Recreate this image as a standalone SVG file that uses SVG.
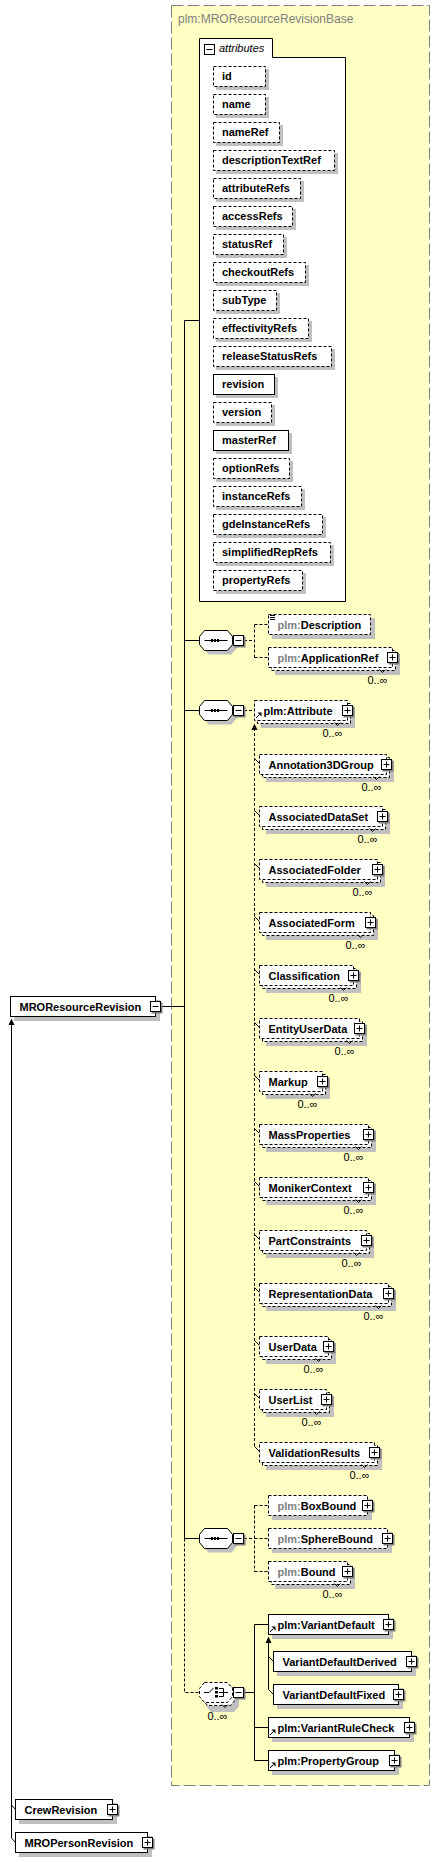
<svg xmlns="http://www.w3.org/2000/svg" xmlns:xlink="http://www.w3.org/1999/xlink" width="440" height="1862" viewBox="0 0 440 1862">
<style>
.t{font-family:"Liberation Sans",Arial,sans-serif;font-size:11px;font-weight:bold;fill:#000}
.g{fill:#808080}
.o{font-family:"Liberation Sans",Arial,sans-serif;font-size:11px;fill:#000;text-anchor:end}
.bx{fill:#fff;stroke:#000;stroke-width:1}
.d{stroke-dasharray:3,2}
.sh{fill:#c0c0c0}
.ln{fill:none;stroke:#000;stroke-width:1}
.nt{fill:none;stroke:#000;stroke-width:1}
</style>
<defs>
<g id="plus"><rect x="-4" y="-4" width="11" height="11" fill="#808080"/><rect x="-5" y="-5" width="10" height="10" fill="#fff" stroke="#000"/><path d="M-3 0H3M0 -3V3" stroke="#000" fill="none"/></g>
<g id="minus"><rect x="-4" y="-4" width="11" height="11" fill="#808080"/><rect x="-5" y="-5" width="10" height="10" fill="#fff" stroke="#000"/><path d="M-3 0H3" stroke="#000" fill="none"/></g>
<g id="ref"><path d="M1.5 -2.5L5 -6" stroke="#000" fill="none"/><polygon points="3,-8 7,-8 7,-4" fill="#000"/></g>
<g id="seq">
<polygon points="9,4 32,4 37,10 37,18 32,24 9,24 4,18 4,10" class="sh"/>
<polygon points="5,0 28,0 33,6 33,14 28,20 5,20 0,14 0,6" fill="#fff" stroke="#000"/>
<path d="M5 10H28" stroke="#000"/>
<rect x="11.5" y="8.5" width="2" height="3" fill="#000"/><rect x="14.5" y="8.5" width="2" height="3" fill="#000"/><rect x="17.5" y="8.5" width="2" height="3" fill="#000"/>
</g>
</defs>

<rect id="base-bg" x="171.5" y="5.5" width="258" height="1780" fill="#ffffc4" stroke="#808080" stroke-dasharray="12,4"/>
<text x="178" y="23" font-family="Liberation Sans, Arial, sans-serif" font-size="12" fill="#808080">plm:MROResourceRevisionBase</text>

<g id="connectors">
<path class="ln" d="M184.5 320.5H199M184.5 320.5V1538.5M161 1006.5H184.5M184.5 640.5H199.5M184.5 710.5H199.5M184.5 1538.5H199.5"/>
<path class="ln d" d="M184.5 1538.5V1692.5H200"/>
<path class="ln d" d="M244 640.5H254.5M254.5 624.5V657.5M254.5 624.5H268M254.5 657.5H268"/>
<path class="ln d" d="M244 710.5H254.5M254.5 728V1446.5"/>
<path class="ln" d="M254.5 758.5L259.5 763.5M254.5 810.5L259.5 815.5M254.5 863.5L259.5 868.5M254.5 916.5L259.5 921.5M254.5 969.5L259.5 974.5M254.5 1022.5L259.5 1027.5M254.5 1075.5L259.5 1080.5M254.5 1128.5L259.5 1133.5M254.5 1181.5L259.5 1186.5M254.5 1234.5L259.5 1239.5M254.5 1287.5L259.5 1292.5M254.5 1340.5L259.5 1345.5M254.5 1393.5L259.5 1398.5M254.5 1446.5L259.5 1451.5"/>
<polygon points="254.5,723.5 257.5,730 251.5,730" fill="#000"/>
<path class="ln d" d="M244 1538.5H254.5M254.5 1505.5V1571.5M254.5 1505.5H268M254.5 1571.5H268M254.5 1538.5H268"/>
<path class="ln" d="M244 1692.5H254.5M254.5 1624.5V1760.5M254.5 1624.5H268M254.5 1727.5H268M254.5 1760.5H268"/>
<path class="ln" d="M268.5 1641V1689.5L273.5 1694.5M268.5 1656.5L273.5 1661.5"/>
<polygon points="268.5,1636.5 271.5,1643 265.5,1643" fill="#000"/>
<path class="ln" d="M11.5 1024V1838L15.5 1842.5M11.5 1805L15.5 1809.5"/>
<polygon points="11.5,1018.5 14.5,1025 8.5,1025" fill="#000"/>
</g>

<g id="attributes">
<path d="M199.5 38.5H272.5V57.5H345.5V601.5H199.5Z" fill="#fff" stroke="#000"/>
<rect x="204.5" y="44.5" width="10" height="10" fill="#fff" stroke="#000"/>
<path d="M206.5 49.5H212.5" stroke="#000"/>
<text x="219" y="52" font-family="Liberation Sans, Arial, sans-serif" font-size="11" font-style="italic" fill="#000">attributes</text>
</g>

<g id="a-id"><rect class="sh" x="216" y="69" width="53" height="21"/><rect class="bx d" x="213.5" y="66.5" width="52" height="20"/><text class="t" x="222" y="80">id</text></g>
<g id="a-name"><rect class="sh" x="216" y="97" width="53" height="21"/><rect class="bx d" x="213.5" y="94.5" width="52" height="20"/><text class="t" x="222" y="108">name</text></g>
<g id="a-nameRef"><rect class="sh" x="216" y="125" width="67" height="21"/><rect class="bx d" x="213.5" y="122.5" width="66" height="20"/><text class="t" x="222" y="136">nameRef</text></g>
<g id="a-descriptionTextRef"><rect class="sh" x="216" y="153" width="122" height="21"/><rect class="bx d" x="213.5" y="150.5" width="121" height="20"/><text class="t" x="222" y="164">descriptionTextRef</text></g>
<g id="a-attributeRefs"><rect class="sh" x="216" y="181" width="88" height="21"/><rect class="bx d" x="213.5" y="178.5" width="87" height="20"/><text class="t" x="222" y="192">attributeRefs</text></g>
<g id="a-accessRefs"><rect class="sh" x="216" y="209" width="80" height="21"/><rect class="bx d" x="213.5" y="206.5" width="79" height="20"/><text class="t" x="222" y="220">accessRefs</text></g>
<g id="a-statusRef"><rect class="sh" x="216" y="237" width="71" height="21"/><rect class="bx d" x="213.5" y="234.5" width="70" height="20"/><text class="t" x="222" y="248">statusRef</text></g>
<g id="a-checkoutRefs"><rect class="sh" x="216" y="265" width="93" height="21"/><rect class="bx d" x="213.5" y="262.5" width="92" height="20"/><text class="t" x="222" y="276">checkoutRefs</text></g>
<g id="a-subType"><rect class="sh" x="216" y="293" width="64" height="21"/><rect class="bx d" x="213.5" y="290.5" width="63" height="20"/><text class="t" x="222" y="304">subType</text></g>
<g id="a-effectivityRefs"><rect class="sh" x="216" y="321" width="96" height="21"/><rect class="bx d" x="213.5" y="318.5" width="95" height="20"/><text class="t" x="222" y="332">effectivityRefs</text></g>
<g id="a-releaseStatusRefs"><rect class="sh" x="216" y="349" width="119" height="21"/><rect class="bx d" x="213.5" y="346.5" width="118" height="20"/><text class="t" x="222" y="360">releaseStatusRefs</text></g>
<g id="a-revision"><rect class="sh" x="216" y="377" width="62" height="21"/><rect class="bx" x="213.5" y="374.5" width="61" height="20"/><text class="t" x="222" y="388">revision</text></g>
<g id="a-version"><rect class="sh" x="216" y="405" width="59" height="21"/><rect class="bx d" x="213.5" y="402.5" width="58" height="20"/><text class="t" x="222" y="416">version</text></g>
<g id="a-masterRef"><rect class="sh" x="216" y="433" width="76" height="21"/><rect class="bx" x="213.5" y="430.5" width="75" height="20"/><text class="t" x="222" y="444">masterRef</text></g>
<g id="a-optionRefs"><rect class="sh" x="216" y="461" width="77" height="21"/><rect class="bx d" x="213.5" y="458.5" width="76" height="20"/><text class="t" x="222" y="472">optionRefs</text></g>
<g id="a-instanceRefs"><rect class="sh" x="216" y="489" width="89" height="21"/><rect class="bx d" x="213.5" y="486.5" width="88" height="20"/><text class="t" x="222" y="500">instanceRefs</text></g>
<g id="a-gdeInstanceRefs"><rect class="sh" x="216" y="517" width="110" height="21"/><rect class="bx d" x="213.5" y="514.5" width="109" height="20"/><text class="t" x="222" y="528">gdeInstanceRefs</text></g>
<g id="a-simplifiedRepRefs"><rect class="sh" x="216" y="545" width="118" height="21"/><rect class="bx d" x="213.5" y="542.5" width="117" height="20"/><text class="t" x="222" y="556">simplifiedRepRefs</text></g>
<g id="a-propertyRefs"><rect class="sh" x="216" y="573" width="90" height="21"/><rect class="bx d" x="213.5" y="570.5" width="89" height="20"/><text class="t" x="222" y="584">propertyRefs</text></g>

<g id="seq1"><use xlink:href="#seq" x="199.5" y="630.5"/><use xlink:href="#minus" x="238.5" y="640.5"/></g>
<g id="seq2"><use xlink:href="#seq" x="199.5" y="700.5"/><use xlink:href="#minus" x="238.5" y="710.5"/></g>
<g id="seq3"><use xlink:href="#seq" x="199.5" y="1528.5"/><use xlink:href="#minus" x="238.5" y="1538.5"/></g>

<g id="choice">
<polygon points="211,1692 234,1692 239,1698 239,1706 234,1712 211,1712 206,1706 206,1698" class="sh"/>
<polygon points="207.5,1685.5 230.5,1685.5 235.5,1691.5 235.5,1699.5 230.5,1705.5 207.5,1705.5 202.5,1699.5 202.5,1691.5" class="bx d"/>
<polygon points="204.5,1682.5 227.5,1682.5 232.5,1688.5 232.5,1696.5 227.5,1702.5 204.5,1702.5 199.5,1696.5 199.5,1688.5" class="bx d"/>
<path d="M204 1692.5H209L213.5 1688" class="ln"/>
<rect x="215" y="1687" width="3" height="2.5" fill="#000"/><rect x="215" y="1691" width="3" height="2.5" fill="#000"/><rect x="215" y="1695" width="3" height="2.5" fill="#000"/>
<path d="M219 1688.5H223.5V1696.5H219M219 1692.5H228" class="ln"/>
<use xlink:href="#minus" x="238.5" y="1692.5"/>
<path class="nt" d="M222 1704.5L225 1707.5L228 1704.5"/>
<text class="o" x="227.5" y="1719.5">0..∞</text>
</g>

<g id="n-description"><rect class="sh" x="272" y="618" width="103" height="21"/><rect class="bx d" x="268.5" y="614.5" width="102" height="20"/><path d="M270 615.5h5M270 617.5h5M270 619.5h5" stroke="#000"/><text class="t" x="277.5" y="628.5"><tspan class="g">plm:</tspan>Description</text></g>
<g id="n-applicationref"><rect class="sh" x="275" y="654" width="125" height="21"/><rect class="bx d" x="271.5" y="650.5" width="124" height="20"/><rect class="bx d" x="268.5" y="647.5" width="124" height="20"/><text class="t" x="277.5" y="661.5"><tspan class="g">plm:</tspan>ApplicationRef</text><use xlink:href="#plus" x="392.5" y="657.5"/><path class="nt" d="M379.5 669.5L382.5 672.5L385.5 669.5"/><text class="o" x="387.5" y="683.5">0..∞</text></g>

<g id="n-attribute"><rect class="sh" x="261" y="707" width="94" height="21"/><rect class="bx d" x="257.5" y="703.5" width="93" height="20"/><rect class="bx d" x="254.5" y="700.5" width="93" height="20"/><use xlink:href="#ref" x="254.5" y="720.5"/><text class="t" x="263.5" y="714.5">plm:Attribute</text><use xlink:href="#plus" x="347.5" y="710.5"/><path class="nt" d="M334.5 722.5L337.5 725.5L340.5 722.5"/><text class="o" x="342.5" y="736.5">0..∞</text></g>

<g id="n-annotation3dgroup"><rect class="sh" x="266" y="761" width="128" height="21"/><rect class="bx d" x="262.5" y="757.5" width="127" height="20"/><rect class="bx d" x="259.5" y="754.5" width="127" height="20"/><text class="t" x="268.5" y="768.5">Annotation3DGroup</text><use xlink:href="#plus" x="386.5" y="764.5"/><path class="nt" d="M373.5 776.5L376.5 779.5L379.5 776.5"/><text class="o" x="381.5" y="790.5">0..∞</text></g>
<g id="n-associateddataset"><rect class="sh" x="266" y="813" width="124" height="21"/><rect class="bx d" x="262.5" y="809.5" width="123" height="20"/><rect class="bx d" x="259.5" y="806.5" width="123" height="20"/><text class="t" x="268.5" y="820.5">AssociatedDataSet</text><use xlink:href="#plus" x="382.5" y="816.5"/><path class="nt" d="M369.5 828.5L372.5 831.5L375.5 828.5"/><text class="o" x="377.5" y="842.5">0..∞</text></g>
<g id="n-associatedfolder"><rect class="sh" x="266" y="866" width="119" height="21"/><rect class="bx d" x="262.5" y="862.5" width="118" height="20"/><rect class="bx d" x="259.5" y="859.5" width="118" height="20"/><text class="t" x="268.5" y="873.5">AssociatedFolder</text><use xlink:href="#plus" x="377.5" y="869.5"/><path class="nt" d="M364.5 881.5L367.5 884.5L370.5 881.5"/><text class="o" x="372.5" y="895.5">0..∞</text></g>
<g id="n-associatedform"><rect class="sh" x="266" y="919" width="112" height="21"/><rect class="bx d" x="262.5" y="915.5" width="111" height="20"/><rect class="bx d" x="259.5" y="912.5" width="111" height="20"/><text class="t" x="268.5" y="926.5">AssociatedForm</text><use xlink:href="#plus" x="370.5" y="922.5"/><path class="nt" d="M357.5 934.5L360.5 937.5L363.5 934.5"/><text class="o" x="365.5" y="948.5">0..∞</text></g>
<g id="n-classification"><rect class="sh" x="266" y="972" width="95" height="21"/><rect class="bx d" x="262.5" y="968.5" width="94" height="20"/><rect class="bx d" x="259.5" y="965.5" width="94" height="20"/><text class="t" x="268.5" y="979.5">Classification</text><use xlink:href="#plus" x="353.5" y="975.5"/><path class="nt" d="M340.5 987.5L343.5 990.5L346.5 987.5"/><text class="o" x="348.5" y="1001.5">0..∞</text></g>
<g id="n-entityuserdata"><rect class="sh" x="266" y="1025" width="101" height="21"/><rect class="bx d" x="262.5" y="1021.5" width="100" height="20"/><rect class="bx d" x="259.5" y="1018.5" width="100" height="20"/><text class="t" x="268.5" y="1032.5">EntityUserData</text><use xlink:href="#plus" x="359.5" y="1028.5"/><path class="nt" d="M346.5 1040.5L349.5 1043.5L352.5 1040.5"/><text class="o" x="354.5" y="1054.5">0..∞</text></g>
<g id="n-markup"><rect class="sh" x="266" y="1078" width="64" height="21"/><rect class="bx d" x="262.5" y="1074.5" width="63" height="20"/><rect class="bx d" x="259.5" y="1071.5" width="63" height="20"/><text class="t" x="268.5" y="1085.5">Markup</text><use xlink:href="#plus" x="322.5" y="1081.5"/><path class="nt" d="M309.5 1093.5L312.5 1096.5L315.5 1093.5"/><text class="o" x="317.5" y="1107.5">0..∞</text></g>
<g id="n-massproperties"><rect class="sh" x="266" y="1131" width="110" height="21"/><rect class="bx d" x="262.5" y="1127.5" width="109" height="20"/><rect class="bx d" x="259.5" y="1124.5" width="109" height="20"/><text class="t" x="268.5" y="1138.5">MassProperties</text><use xlink:href="#plus" x="368.5" y="1134.5"/><path class="nt" d="M355.5 1146.5L358.5 1149.5L361.5 1146.5"/><text class="o" x="363.5" y="1160.5">0..∞</text></g>
<g id="n-monikercontext"><rect class="sh" x="266" y="1184" width="110" height="21"/><rect class="bx d" x="262.5" y="1180.5" width="109" height="20"/><rect class="bx d" x="259.5" y="1177.5" width="109" height="20"/><text class="t" x="268.5" y="1191.5">MonikerContext</text><use xlink:href="#plus" x="368.5" y="1187.5"/><path class="nt" d="M355.5 1199.5L358.5 1202.5L361.5 1199.5"/><text class="o" x="363.5" y="1213.5">0..∞</text></g>
<g id="n-partconstraints"><rect class="sh" x="266" y="1237" width="108" height="21"/><rect class="bx d" x="262.5" y="1233.5" width="107" height="20"/><rect class="bx d" x="259.5" y="1230.5" width="107" height="20"/><text class="t" x="268.5" y="1244.5">PartConstraints</text><use xlink:href="#plus" x="366.5" y="1240.5"/><path class="nt" d="M353.5 1252.5L356.5 1255.5L359.5 1252.5"/><text class="o" x="361.5" y="1266.5">0..∞</text></g>
<g id="n-representationdata"><rect class="sh" x="266" y="1290" width="130" height="21"/><rect class="bx d" x="262.5" y="1286.5" width="129" height="20"/><rect class="bx d" x="259.5" y="1283.5" width="129" height="20"/><text class="t" x="268.5" y="1297.5">RepresentationData</text><use xlink:href="#plus" x="388.5" y="1293.5"/><path class="nt" d="M375.5 1305.5L378.5 1308.5L381.5 1305.5"/><text class="o" x="383.5" y="1319.5">0..∞</text></g>
<g id="n-userdata"><rect class="sh" x="266" y="1343" width="70" height="21"/><rect class="bx d" x="262.5" y="1339.5" width="69" height="20"/><rect class="bx d" x="259.5" y="1336.5" width="69" height="20"/><text class="t" x="268.5" y="1350.5">UserData</text><use xlink:href="#plus" x="328.5" y="1346.5"/><path class="nt" d="M315.5 1358.5L318.5 1361.5L321.5 1358.5"/><text class="o" x="323.5" y="1372.5">0..∞</text></g>
<g id="n-userlist"><rect class="sh" x="266" y="1396" width="68" height="21"/><rect class="bx d" x="262.5" y="1392.5" width="67" height="20"/><rect class="bx d" x="259.5" y="1389.5" width="67" height="20"/><text class="t" x="268.5" y="1403.5">UserList</text><use xlink:href="#plus" x="326.5" y="1399.5"/><path class="nt" d="M313.5 1411.5L316.5 1414.5L319.5 1411.5"/><text class="o" x="321.5" y="1425.5">0..∞</text></g>
<g id="n-validationresults"><rect class="sh" x="266" y="1449" width="116" height="21"/><rect class="bx d" x="262.5" y="1445.5" width="115" height="20"/><rect class="bx d" x="259.5" y="1442.5" width="115" height="20"/><text class="t" x="268.5" y="1456.5">ValidationResults</text><use xlink:href="#plus" x="374.5" y="1452.5"/><path class="nt" d="M361.5 1464.5L364.5 1467.5L367.5 1464.5"/><text class="o" x="369.5" y="1478.5">0..∞</text></g>

<g id="n-boxbound"><rect class="sh" x="272" y="1499" width="100" height="21"/><rect class="bx d" x="268.5" y="1495.5" width="99" height="20"/><text class="t" x="277.5" y="1509.5"><tspan class="g">plm:</tspan>BoxBound</text><use xlink:href="#plus" x="367.5" y="1505.5"/></g>
<g id="n-spherebound"><rect class="sh" x="272" y="1532" width="120" height="21"/><rect class="bx d" x="268.5" y="1528.5" width="119" height="20"/><text class="t" x="277.5" y="1542.5"><tspan class="g">plm:</tspan>SphereBound</text><use xlink:href="#plus" x="387.5" y="1538.5"/></g>
<g id="n-bound"><rect class="sh" x="275" y="1568" width="80" height="21"/><rect class="bx d" x="271.5" y="1564.5" width="79" height="20"/><rect class="bx d" x="268.5" y="1561.5" width="79" height="20"/><text class="t" x="277.5" y="1575.5"><tspan class="g">plm:</tspan>Bound</text><use xlink:href="#plus" x="347.5" y="1571.5"/><path class="nt" d="M334.5 1583.5L337.5 1586.5L340.5 1583.5"/><text class="o" x="342.5" y="1597.5">0..∞</text></g>

<g id="n-variantdefault"><rect class="sh" x="272" y="1618" width="121" height="21"/><rect class="bx" x="268.5" y="1614.5" width="120" height="20"/><use xlink:href="#ref" x="268.5" y="1634.5"/><text class="t" x="277.5" y="1628.5">plm:VariantDefault</text><use xlink:href="#plus" x="388.5" y="1624.5"/></g>
<g id="n-variantdefaultderived"><rect class="sh" x="277" y="1655" width="139" height="21"/><rect class="bx" x="273.5" y="1651.5" width="138" height="20"/><text class="t" x="282.5" y="1665.5">VariantDefaultDerived</text><use xlink:href="#plus" x="411.5" y="1661.5"/></g>
<g id="n-variantdefaultfixed"><rect class="sh" x="277" y="1688" width="126" height="21"/><rect class="bx" x="273.5" y="1684.5" width="125" height="20"/><text class="t" x="282.5" y="1698.5">VariantDefaultFixed</text><use xlink:href="#plus" x="398.5" y="1694.5"/></g>
<g id="n-variantrulecheck"><rect class="sh" x="272" y="1721" width="142" height="21"/><rect class="bx" x="268.5" y="1717.5" width="141" height="20"/><use xlink:href="#ref" x="268.5" y="1737.5"/><text class="t" x="277.5" y="1731.5">plm:VariantRuleCheck</text><use xlink:href="#plus" x="409.5" y="1727.5"/></g>
<g id="n-propertygroup"><rect class="sh" x="272" y="1754" width="127" height="21"/><rect class="bx" x="268.5" y="1750.5" width="126" height="20"/><use xlink:href="#ref" x="268.5" y="1770.5"/><text class="t" x="277.5" y="1764.5">plm:PropertyGroup</text><use xlink:href="#plus" x="394.5" y="1760.5"/></g>

<g id="n-mroresourcerevision"><rect class="sh" x="14" y="1000" width="146" height="21"/><rect class="bx" x="10.5" y="996.5" width="145" height="20"/><text class="t" x="19.5" y="1010.5">MROResourceRevision</text><use xlink:href="#minus" x="155.5" y="1006.5"/></g>
<g id="n-crewrevision"><rect class="sh" x="19" y="1803" width="98" height="21"/><rect class="bx" x="15.5" y="1799.5" width="97" height="20"/><text class="t" x="24.5" y="1813.5">CrewRevision</text><use xlink:href="#plus" x="112.5" y="1809.5"/></g>
<g id="n-mropersonrevision"><rect class="sh" x="19" y="1836" width="133" height="21"/><rect class="bx" x="15.5" y="1832.5" width="132" height="20"/><text class="t" x="24.5" y="1846.5">MROPersonRevision</text><use xlink:href="#plus" x="147.5" y="1842.5"/></g>
</svg>
